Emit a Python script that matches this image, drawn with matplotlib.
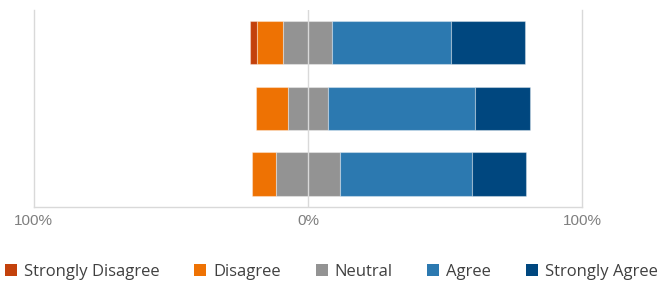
import matplotlib
matplotlib.use("Agg")
import matplotlib.pyplot as plt
from matplotlib.patches import Patch
import numpy as np

categories = ["Q1", "Q2", "Q3"]
strongly_disagree = [2.7, 0.0, 0.0]
disagree = [9.5, 11.5, 8.5]
neutral = [17.9, 14.6, 23.4]
agree = [43.2, 53.8, 48.0]
strongly_agree = [27.1, 20.0, 20.0]
tick_values = [-100, 0, 100]
tick_labels = ["100%", "0%", "100%"]
legend_labels = ["Strongly Disagree", "Disagree", "Neutral", "Agree", "Strongly Agree"]
colors = ["#C3410C", "#EE7203", "#939393", "#2C79B0", "#00477F"]

plt.rcParams['font.family'] = ['Open Sans', 'DejaVu Sans']

fig = plt.figure(figsize=(6.6, 2.84), dpi=100)
ax = fig.add_axes([0.051, 0.2722, 0.831, 0.6926])

sd = np.array(strongly_disagree)
d = np.array(disagree)
n = np.array(neutral)
a = np.array(agree)
sa = np.array(strongly_agree)
y = np.arange(len(categories))

half_n = n / 2
lefts = [-(half_n + d + sd), -(half_n + d), -half_n, half_n, half_n + a]
widths = [sd, d, n, a, sa]
edge = (1, 1, 1, 0.35)
for left, width, c in zip(lefts, widths, colors):
    ax.barh(y, width, left=left, height=0.66, color=c, edgecolor=edge, linewidth=0.8, zorder=2)

ax.axvline(0, color="#d9d9d9", linewidth=1, zorder=3)
ax.set_xlim(-100, 100)
ax.set_ylim(2.5, -0.5)
ax.set_yticks([])
ax.set_xticks(tick_values)
ax.set_xticklabels(tick_labels, color="#7f7f7f", fontsize=11, family=["Liberation Sans", "DejaVu Sans"])
ax.tick_params(axis="x", length=0, pad=5)
for s in ["left", "right", "bottom"]:
    ax.spines[s].set_color("#d9d9d9")
    ax.spines[s].set_linewidth(1)
ax.spines["top"].set_visible(False)

handles = [Patch(facecolor=c, edgecolor="none") for c in colors]
fig.legend(handles, legend_labels, loc="center", bbox_to_anchor=(0.502, 1 - 272 / 284), ncol=5,
           frameon=False, fontsize=12, handlelength=0.72, handleheight=0.72, handletextpad=0.4,
           columnspacing=2.1, labelcolor="#404040", borderpad=0, borderaxespad=0)

fig.savefig("out.png", dpi=100)
